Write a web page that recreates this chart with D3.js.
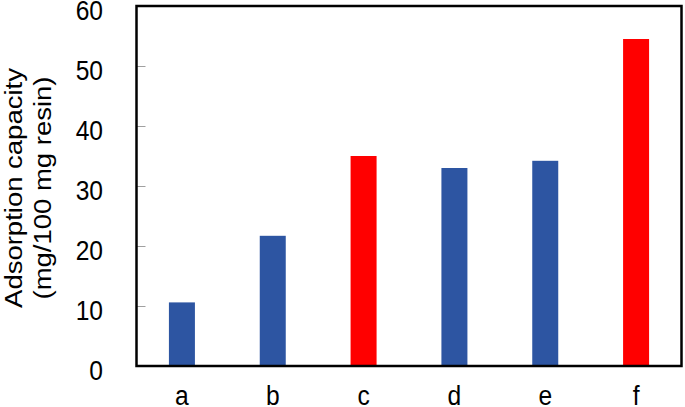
<!DOCTYPE html>
<html>
<head>
<meta charset="utf-8">
<script src="https://cdn.jsdelivr.net/npm/d3@7"></script>
<style>
  html, body { margin: 0; padding: 0; background: #fff; }
  svg { display: block; }
  text { font-family: "Liberation Sans", Arial, sans-serif; fill: #000; }
</style>
</head>
<body>
<script>
const categories = ["a", "b", "c", "d", "e", "f"];
const values = [10.6, 21.7, 35.0, 33.0, 34.2, 54.5];
const highlighted = [false, false, true, false, false, true];
const yTicks = [0, 10, 20, 30, 40, 50, 60];
const yTitleLines = ["Adsorption capacity", "(mg/100 mg resin)"];

const W = 685, H = 407;
const mLeft = 136.5, mRight = 681.5, mTop = 6, mBottom = 366;
const fs = 27.5, sx = 0.895;

const svg = d3.select("body").append("svg").attr("width", W).attr("height", H);

const x = d3.scalePoint().domain(categories).range([mLeft, mRight]).padding(0.5);
const y = d3.scaleLinear().domain([0, 60]).range([mBottom, mTop]);
const barW = 26;

// bars
svg.append("g").selectAll("rect").data(categories).join("rect")
  .attr("x", d => x(d) - barW / 2)
  .attr("y", (d, i) => y(values[i]))
  .attr("width", barW)
  .attr("height", (d, i) => y(0) - y(values[i]))
  .attr("fill", (d, i) => highlighted[i] ? "#ff0000" : "#2d55a2");

// y axis (inner ticks)
const yAxis = svg.append("g").attr("transform", `translate(${mLeft},0)`)
  .call(d3.axisLeft(y).tickValues(yTicks).tickSize(-9).tickPadding(0));
yAxis.select(".domain").remove();
yAxis.selectAll(".tick line").attr("stroke", "#a0a0a0").attr("stroke-width", 1)
  .filter(d => d === 0 || d === 60).remove();
yAxis.selectAll(".tick text")
  .attr("font-size", fs)
  .attr("font-family", "Liberation Sans, Arial, sans-serif")
  .attr("text-anchor", "end")
  .attr("x", -33.5 / sx)
  .attr("dy", null)
  .attr("y", 13)
  .attr("transform", `scale(${sx},1)`);

// x axis labels
const xAxis = svg.append("g").attr("transform", `translate(0,${mBottom})`)
  .call(d3.axisBottom(x).tickSize(0).tickPadding(0));
xAxis.select(".domain").remove();
xAxis.selectAll(".tick").each(function(d) {
  const g = d3.select(this);
  const xp = x(d);
  g.attr("transform", null);
  g.select("text")
    .attr("font-size", fs)
    .attr("font-family", "Liberation Sans, Arial, sans-serif")
    .attr("text-anchor", "middle")
    .attr("dy", null)
    .attr("x", xp / sx)
    .attr("y", 39.5)
    .attr("transform", `scale(${sx},1)`);
});

// frame
svg.append("rect")
  .attr("x", mLeft).attr("y", mTop)
  .attr("width", mRight - mLeft).attr("height", mBottom - mTop)
  .attr("fill", "none").attr("stroke", "#000").attr("stroke-width", 2.5);

// y title
const yMid = 188;
const baselines = [22, 51];
yTitleLines.forEach((t, i) => {
  svg.append("text")
    .attr("transform", `translate(${baselines[i]},${yMid}) rotate(-90) scale(1,${sx})`)
    .attr("text-anchor", "middle")
    .attr("font-size", fs)
    .text(t);
});
</script>
</body>
</html>
